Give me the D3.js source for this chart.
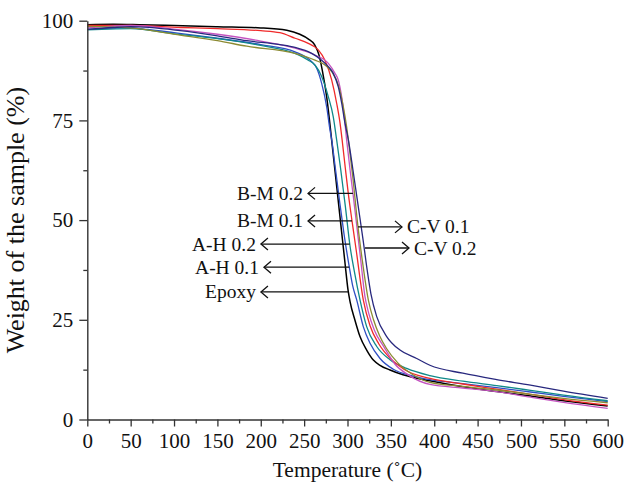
<!DOCTYPE html>
<html>
<head>
<meta charset="utf-8">
<script src="https://cdn.jsdelivr.net/npm/d3@7"></script>
<style>
  body { margin: 0; background: #fff; }
  svg text { font-family: "Liberation Serif", "DejaVu Serif", serif; fill: #111; }
</style>
</head>
<body>
<svg id="chart" width="625" height="485"></svg>
<script>
// TGA curves: temperature (°C) vs remaining weight (%)
const tempTicks = [0, 50, 100, 150, 200, 250, 300, 350, 400, 450, 500, 550, 600];
const weightTicks = [0, 25, 50, 75, 100];

const epoxy = [[0,99.0],[30,99.1],[60,99.0],[100,98.8],[150,98.5],[200,98.2],[230,97.6],[245,96.6],[255,95.4],[262,94.0],[267,91.5],[271,87.5],[276,80.9],[279,75.5],[283,67.5],[288,57.5],[293,47.5],[297,39.5],[300.6,32.5],[303,29.5],[308.6,24.9],[314.4,20.8],[322.1,17.4],[329.8,14.9],[337.5,13.6],[349,12.4],[364,11.2],[395,9.7],[433,8.2],[472,7.0],[511,5.9],[549,4.7],[600,3.4]];
const ah01 = [[0,97.8],[20,98.1],[45,98.3],[70,97.8],[100,97.0],[150,95.6],[200,94.0],[239.5,92.2],[258.7,89.7],[264.5,88.1],[270.2,84.3],[276,78.4],[279.8,72.6],[281.8,70.1],[286,63],[291,54.5],[296,46.5],[301.7,38.7],[306,33.5],[310.6,30],[318.2,23.3],[326,19.1],[337.5,15.3],[352.8,12.6],[375.9,10.9],[395,10.0],[433,9.0],[472,8.0],[511,6.9],[549,5.8],[600,4.5]];
const ah02 = [[0,97.7],[25,97.9],[50,98.0],[100,96.7],[150,95.5],[200,93.8],[239.5,91.8],[254.8,90.1],[262.5,88.9],[270.2,86.0],[277.9,80.9],[283.6,75.9],[287.5,70.1],[292,63],[297.5,53.5],[302.9,43.5],[308,37],[314.4,30],[322.1,23.3],[333.7,18.3],[349,15.0],[368.3,12.8],[395,11.0],[433,9.6],[472,8.5],[511,7.3],[549,6.1],[600,4.7]];
const bm01 = [[0,98.8],[50,98.8],[107,98.3],[150,98.0],[200,97.5],[222,97.0],[239.5,95.6],[254.8,94.3],[266.3,92.7],[274,90.1],[281.8,85.1],[287.5,79.3],[291.4,74.3],[293.8,70.1],[297.5,63],[301,56.5],[305.2,49.8],[310,42.5],[318.2,30],[326,23.5],[336,19],[350,15.2],[365,12.6],[395,10.3],[433,8.9],[472,7.6],[511,6.3],[549,5.0],[600,3.6]];
const bm02 = [[0,98.2],[25,98.6],[50,98.8],[100,97.9],[150,96.6],[200,94.9],[239.5,93.1],[262.5,91.4],[277.9,89.3],[285.6,86.8],[289.4,85.1],[293.3,80.9],[296.3,75.9],[299,70.1],[303,62.5],[306.3,56.7],[311,48],[315.5,39.5],[320,31],[324,27],[331,22.4],[342,18.2],[355,13.8],[370,11.2],[395,8.8],[433,7.9],[472,7.0],[511,5.6],[549,4.3],[600,2.8]];
const cv01 = [[0,98.6],[49,98.2],[107,96.4],[150,95.0],[184,93.6],[239.5,91.8],[262.5,90.1],[274,88.9],[281.8,87.2],[289.4,83.9],[295.2,78.4],[299,73.4],[301,70.1],[306,61],[312.1,48.3],[317,40],[324,30],[330,25],[337,21],[345,17.8],[358,14.2],[375,11.3],[395,9.3],[433,8.3],[472,7.4],[511,6.3],[549,5.3],[600,4.2]];
const cv02 = [[0,97.8],[30,98.3],[50,98.5],[107,97.5],[150,96.2],[184,95.0],[222,94.0],[239.5,93.3],[258.7,91.8],[270.2,90.1],[277.9,88.5],[283.6,86.8],[289.4,83.4],[293.3,79.3],[297.1,74.3],[301,70.1],[306,63],[312,54],[318,45],[323,37],[327,31.5],[333.7,25.8],[345.2,20.8],[360.5,17.4],[379.8,15.3],[395,13.6],[433,11.6],[472,10.0],[511,8.6],[549,7.1],[600,5.3]];

const seriesNames = ["Epoxy", "A-H 0.1", "A-H 0.2", "B-M 0.1", "B-M 0.2", "C-V 0.1", "C-V 0.2"];
const seriesData = [epoxy, ah01, ah02, bm01, bm02, cv01, cv02];
const seriesColors = ["#000000", "#2f4fc4", "#10898a", "#f02a2a", "#c454c0", "#8c8a32", "#28287e"];

// Callouts: arrow at a weight level, running from the curve to a point next to the label
const calloutLabels  = ["B-M 0.2", "B-M 0.1", "A-H 0.2", "A-H 0.1", "Epoxy", "C-V 0.1", "C-V 0.2"];
const calloutWeights = [56.7, 49.8, 44.0, 38.2, 32.0, 48.3, 43.0];
const calloutFrom    = [306.3, 305.2, 302.6, 302.0, 300.6, 312.1, 320.2];
const calloutTo      = [254.5, 254.5, 200.2, 203.7, 200.2, 362.8, 370.9];

const svg = d3.select("#chart");

const x = d3.scaleLinear().domain([0, 600]).range([87.3, 607.7]);
const y = d3.scaleLinear().domain([0, 100]).range([419.5, 20.7]);

const axisColor = "#333";
const tickFont = 21;
const noteFont = 19.5;

// minor ticks
svg.append("g")
  .attr("transform", `translate(0,${y(0)})`)
  .call(d3.axisBottom(x).tickValues(d3.range(25, 600, 50)).tickSize(4).tickFormat(""))
  .call(g => g.select(".domain").remove())
  .call(g => g.selectAll("line").attr("stroke", axisColor).attr("stroke-width", 1.3));
svg.append("g")
  .attr("transform", `translate(${x(0)},0)`)
  .call(d3.axisLeft(y).tickValues([12.5, 37.5, 62.5, 87.5]).tickSize(4).tickFormat(""))
  .call(g => g.select(".domain").remove())
  .call(g => g.selectAll("line").attr("stroke", axisColor).attr("stroke-width", 1.3));

// curves
const line = d3.line()
  .x(d => x(d[0]))
  .y(d => y(d[1]))
  .curve(d3.curveMonotoneX);

svg.append("g")
  .selectAll("path")
  .data(seriesData)
  .join("path")
  .attr("d", line)
  .attr("fill", "none")
  .attr("stroke", (d, i) => seriesColors[i])
  .attr("stroke-width", (d, i) => i === 0 ? 1.5 : 1.3)
  .attr("stroke-linejoin", "round");

// major axes
const xAxis = svg.append("g")
  .attr("transform", `translate(0,${y(0)})`)
  .call(d3.axisBottom(x).tickValues(tempTicks).tickSize(7).tickSizeOuter(0).tickPadding(7).tickFormat(d3.format("d")));
const yAxis = svg.append("g")
  .attr("transform", `translate(${x(0)},0)`)
  .call(d3.axisLeft(y).tickValues(weightTicks).tickSize(8).tickSizeOuter(0).tickPadding(6).tickFormat(d3.format("d")));

[xAxis, yAxis].forEach(g => {
  g.select(".domain").attr("stroke", axisColor).attr("stroke-width", 1.4);
  g.selectAll(".tick line").attr("stroke", axisColor).attr("stroke-width", 1.3);
  g.selectAll(".tick text")
    .attr("font-family", "Liberation Serif, DejaVu Serif, serif")
    .attr("font-size", tickFont)
    .attr("fill", "#111");
});

// axis titles
svg.append("text")
  .attr("x", (x(0) + x(600)) / 2)
  .attr("y", 477)
  .attr("text-anchor", "middle")
  .attr("font-size", 21.5)
  .text("Temperature (˚C)");

svg.append("text")
  .attr("transform", `translate(24,${(y(0) + y(100)) / 2}) rotate(-90)`)
  .attr("text-anchor", "middle")
  .attr("font-size", 26)
  .text("Weight of the sample (%)");

// callout arrows and labels
const callouts = svg.append("g");
calloutLabels.forEach((name, i) => {
  const yy = y(calloutWeights[i]);
  const x0 = x(calloutFrom[i]);
  const x1 = x(calloutTo[i]);
  const dir = x1 < x0 ? -1 : 1;
  callouts.append("line")
    .attr("x1", x0).attr("y1", yy).attr("x2", x1).attr("y2", yy)
    .attr("stroke", "#111").attr("stroke-width", 1.3);
  callouts.append("path")
    .attr("d", `M${x1 - dir * 7},${yy - 6}L${x1},${yy}L${x1 - dir * 7},${yy + 6}`)
    .attr("fill", "none").attr("stroke", "#111").attr("stroke-width", 1.3);
  callouts.append("text")
    .attr("x", x1 + dir * 5)
    .attr("y", yy + 6.5)
    .attr("text-anchor", dir < 0 ? "end" : "start")
    .attr("font-size", noteFont)
    .text(name);
});
</script>
</body>
</html>
